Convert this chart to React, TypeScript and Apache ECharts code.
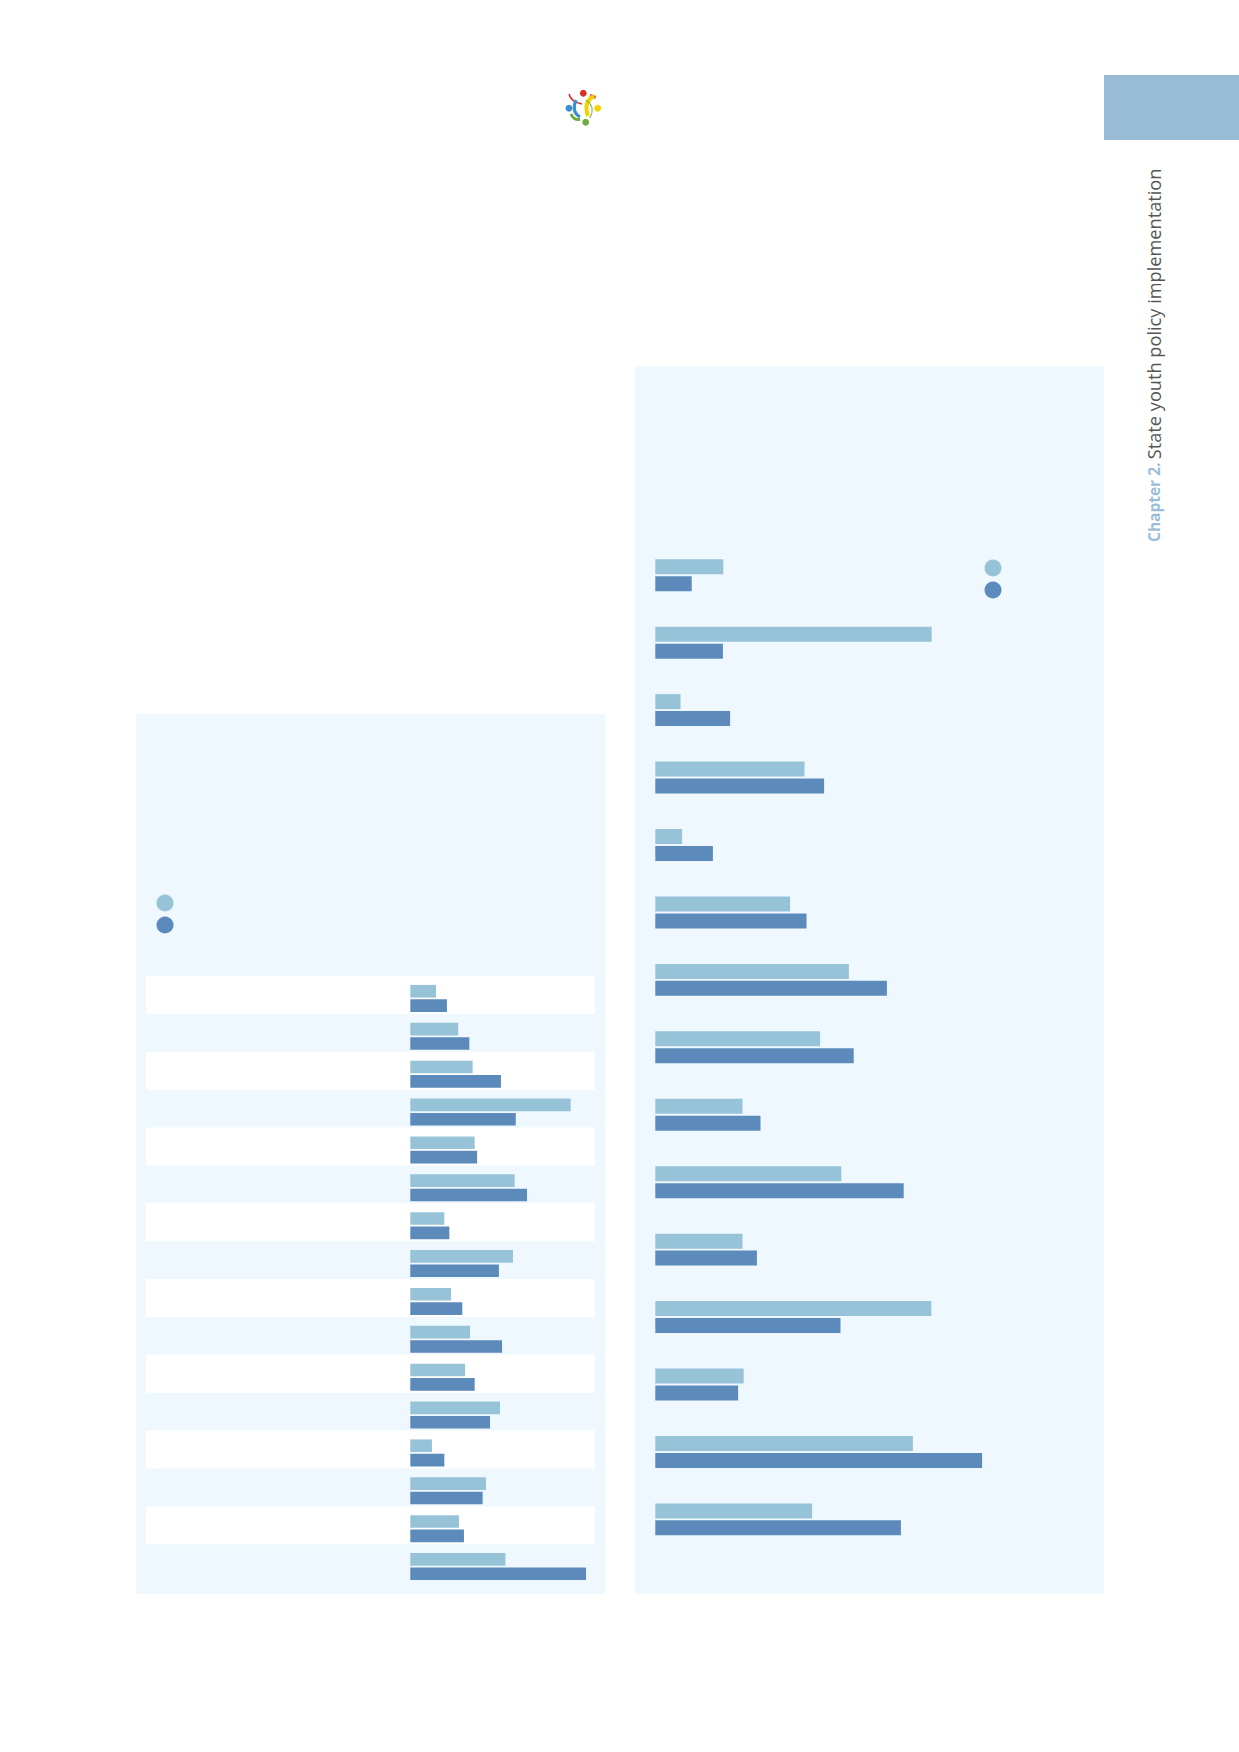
import React, { useEffect, useRef } from "react";
import * as echarts from "echarts";

// ---- Data ----
const leftCategories = [
  "L1", "L2", "L3", "L4", "L5", "L6", "L7", "L8",
  "L9", "L10", "L11", "L12", "L13", "L14", "L15", "L16",
];
const leftLight = [13.9, 25.9, 33.7, 86.7, 34.8, 56.4, 18.4, 55.5, 22.0, 32.3, 29.6, 48.5, 11.7, 40.9, 26.3, 51.4];
const leftDark = [19.8, 31.9, 49.0, 57.0, 36.1, 63.1, 21.1, 47.9, 28.1, 49.6, 34.8, 43.1, 18.4, 39.1, 29.0, 95.0];

const rightCategories = [
  "R1", "R2", "R3", "R4", "R5", "R6", "R7", "R8",
  "R9", "R10", "R11", "R12", "R13", "R14", "R15",
];
const rightLight = [17.0, 69.1, 6.3, 37.3, 6.7, 33.7, 48.4, 41.2, 21.8, 46.5, 21.8, 69.0, 22.1, 64.4, 39.2];
const rightDark = [9.1, 16.9, 18.7, 42.2, 14.4, 37.8, 57.9, 49.6, 26.3, 62.1, 25.4, 46.3, 20.7, 81.7, 61.4];

const LIGHT = "#97c3d9";
const DARK = "#5c8aba";
const PANEL = "#eef8fe";

export default function App() {
  const ref = useRef<HTMLDivElement>(null);

  useEffect(() => {
    if (!ref.current) return;
    const chart = echarts.init(ref.current, undefined, { renderer: "svg" });

    const hiddenValueAxis = (gridIndex: number, max: number) => ({
      type: "value",
      gridIndex,
      min: 0,
      max,
      show: false,
      splitLine: { show: false },
    });

    const legendBase = {
      orient: "vertical",
      icon: "circle",
      itemWidth: 17,
      itemHeight: 17,
      itemGap: 5,
      padding: 0,
      formatter: () => "",
      selectedMode: false,
    };

    const option: any = {
      animation: false,
      backgroundColor: "#ffffff",
      grid: [
        { left: 146, top: 976, width: 449, height: 606 },
        { left: 410.3, top: 979.5, width: 185, height: 606 },
        { left: 655.3, top: 541.5, width: 400, height: 1011.6 },
      ],
      xAxis: [hiddenValueAxis(0, 1), hiddenValueAxis(1, 100), hiddenValueAxis(2, 100)],
      yAxis: [
        {
          type: "category",
          gridIndex: 0,
          data: leftCategories,
          inverse: true,
          axisLine: { show: false },
          axisTick: { show: false },
          axisLabel: { show: false },
          splitLine: { show: false },
          splitArea: {
            show: true,
            areaStyle: { color: ["#ffffff", "rgba(255,255,255,0)"] },
          },
        },
        { type: "category", gridIndex: 1, data: leftCategories, inverse: true, show: false },
        { type: "category", gridIndex: 2, data: rightCategories, inverse: true, show: false },
      ],
      legend: [
        { ...legendBase, data: ["Left light", "Left dark"], left: 156.5, top: 894.5 },
        { ...legendBase, data: ["Right light", "Right dark"], left: 984.5, top: 559.5 },
      ],
      series: [
        {
          name: "Left light", type: "bar", xAxisIndex: 1, yAxisIndex: 1, data: leftLight,
          barWidth: 12.7, barGap: "13%", itemStyle: { color: LIGHT },
        },
        {
          name: "Left dark", type: "bar", xAxisIndex: 1, yAxisIndex: 1, data: leftDark,
          barWidth: 12.7, barGap: "13%", itemStyle: { color: DARK },
        },
        {
          name: "Right light", type: "bar", xAxisIndex: 2, yAxisIndex: 2, data: rightLight,
          barWidth: 15, barGap: "13%", itemStyle: { color: LIGHT },
        },
        {
          name: "Right dark", type: "bar", xAxisIndex: 2, yAxisIndex: 2, data: rightDark,
          barWidth: 15, barGap: "13%", itemStyle: { color: DARK },
        },
      ],
      graphic: [
        { type: "rect", z: -10, shape: { x: 136, y: 714, width: 469, height: 880 }, style: { fill: PANEL } },
        { type: "rect", z: -10, shape: { x: 635, y: 366.5, width: 469, height: 1227 }, style: { fill: PANEL } },
        { type: "rect", z: -10, shape: { x: 1104, y: 75, width: 135, height: 65 }, style: { fill: "#98bcd5" } },
        {
          type: "text",
          x: 1154,
          y: 542,
          rotation: Math.PI / 2,
          style: {
            text: "{b|Chapter 2.} {n|State youth policy implementation}",
            align: "left",
            verticalAlign: "middle",
            rich: {
              b: { fontFamily: "Open Sans", fontWeight: "bold", fontSize: 15.5, fill: "#9bbdd7" },
              n: { fontFamily: "Open Sans", fontSize: 18.2, fill: "#555555" },
            },
          },
        },
        // logo
        { type: "bezierCurve", shape: { x1: 569, y1: 94, cpx1: 571, cpy1: 102, x2: 582, y2: 104 }, style: { stroke: "#d9302b", lineWidth: 1.6, fill: "none" } },
        { type: "line", shape: { x1: 590, y1: 95.5, x2: 595.5, y2: 97.5 }, style: { stroke: "#d9302b", lineWidth: 3 } },
        { type: "bezierCurve", shape: { x1: 576, y1: 100, cpx1: 571, cpy1: 112, x2: 580, y2: 117 }, style: { stroke: "#3a8fd0", lineWidth: 3, fill: "none" } },
        { type: "bezierCurve", shape: { x1: 594, y1: 96, cpx1: 583, cpy1: 102, x2: 588, y2: 116 }, style: { stroke: "#f2d300", lineWidth: 4, fill: "none" } },
        { type: "bezierCurve", shape: { x1: 571, y1: 114, cpx1: 574, cpy1: 121, x2: 580, y2: 119 }, style: { stroke: "#6fab3e", lineWidth: 3, fill: "none" } },
        { type: "bezierCurve", shape: { x1: 586, y1: 100, cpx1: 596, cpy1: 106, x2: 590, y2: 118 }, style: { stroke: "#6fab3e", lineWidth: 1, fill: "none" } },
        { type: "circle", shape: { cx: 583.3, cy: 93.3, r: 3.4 }, style: { fill: "#d9302b" } },
        { type: "circle", shape: { cx: 569, cy: 108.3, r: 3.4 }, style: { fill: "#3a8fd0" } },
        { type: "circle", shape: { cx: 597.7, cy: 108.3, r: 3.4 }, style: { fill: "#f2d300" } },
        { type: "circle", shape: { cx: 585.7, cy: 122.3, r: 3.4 }, style: { fill: "#6fab3e" } },
      ],
    };

    chart.setOption(option);
    return () => chart.dispose();
  }, []);

  return (
    <div
      ref={ref}
      style={{ position: "absolute", left: 0, top: 0, width: 1239, height: 1752 }}
    />
  );
}
